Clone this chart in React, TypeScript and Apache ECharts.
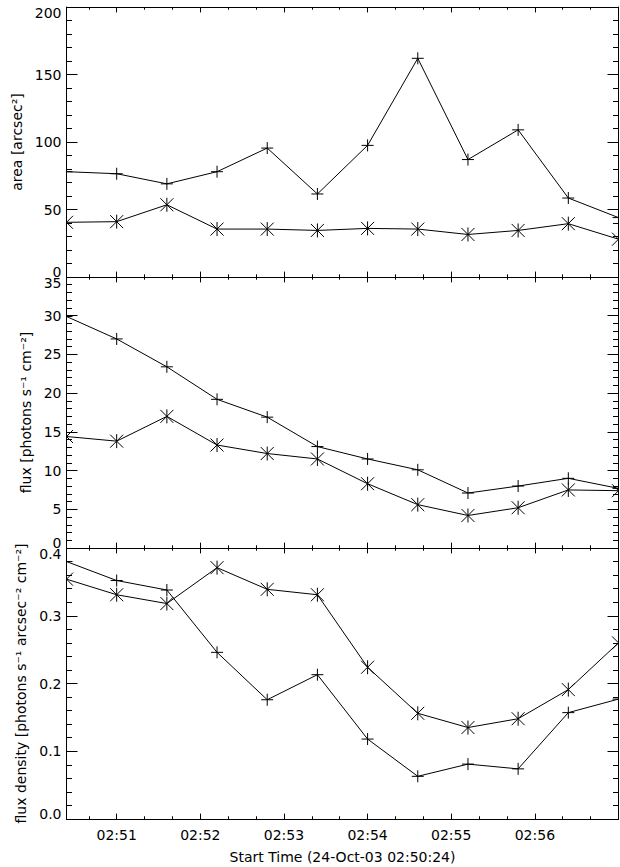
import React, { useEffect, useRef } from 'react';
import * as echarts from 'echarts';

// Start times, in seconds after 02:50:00 on 24-Oct-03
const times = [24, 60, 96, 132, 168, 204, 240, 276, 312, 348, 384, 420];

// Panel 1: area [arcsec^2]
const areaPlus = [78, 76.5, 69, 78, 95.5, 61.5, 97.5, 162, 87, 109, 58.5, 44];
const areaStar = [40.5, 41, 53.5, 35.5, 35.5, 34.5, 36, 35.5, 31.5, 34.5, 39.5, 28];

// Panel 2: flux [photons s^-1 cm^-2]
const fluxPlus = [29.9, 27.0, 23.4, 19.2, 16.9, 13.1, 11.5, 10.1, 7.1, 8.0, 9.0, 7.7];
const fluxStar = [14.4, 13.8, 17.0, 13.3, 12.2, 11.5, 8.3, 5.6, 4.2, 5.2, 7.5, 7.4];

// Panel 3: flux density [photons s^-1 arcsec^-2 cm^-2]
const densPlus = [0.38, 0.352, 0.338, 0.246, 0.176, 0.213, 0.118, 0.063, 0.081, 0.074, 0.157, 0.177];
const densStar = [0.354, 0.331, 0.318, 0.371, 0.339, 0.331, 0.224, 0.156, 0.135, 0.148, 0.191, 0.26];

// Axis ticks (seconds after 02:50:00)
const majorTimeTicks = [60, 120, 180, 240, 300, 360];
const minorTimeTicks = [40, 80, 100, 140, 160, 200, 220, 260, 280, 320, 340, 380, 400];
const timeMin = 24;
const timeMax = 420;

const yNames = ['area [arcsec²]', 'flux [photons s⁻¹ cm⁻²]', 'flux density [photons s⁻¹ arcsec⁻² cm⁻²]'];
const yMins = [0, 0, 0];
const yMaxs = [200, 35, 0.4];
const yIntervals = [50, 5, 0.1];
const yDecimals = [0, 0, 1];
const xTitle = 'Start Time (24-Oct-03 02:50:24)';

const FONT = 'DejaVu Sans';
const INK = '#000';

export default function App() {
  const ref = useRef<HTMLDivElement>(null);

  useEffect(() => {
    if (!ref.current) return;
    const chart = echarts.init(ref.current, null, { renderer: 'svg' });

    const plusSets = [areaPlus, fluxPlus, densPlus];
    const starSets = [areaStar, fluxStar, densStar];
    const tops = [7, 277, 548];
    const heights = [270, 271, 271];

    const grid: any[] = [];
    const xAxis: any[] = [];
    const yAxis: any[] = [];
    const series: any[] = [];

    const lineStyle = { color: INK, width: 1 };

    for (let i = 0; i < 3; i++) {
      grid.push({ left: 66.5, width: 552, top: tops[i], height: heights[i], containLabel: false });
      const isLast = i === 2;
      const fmt = (v: number) => '02:' + String(50 + Math.round(v / 60));
      const mkX = (position: string, major: boolean) => ({
        type: 'value',
        gridIndex: i,
        position,
        min: timeMin,
        max: timeMax,
        axisLine: { show: major, onZero: false, lineStyle },
        axisTick: {
          show: true,
          inside: true,
          length: major ? 5.4 : 2.7,
          customValues: major ? majorTimeTicks : minorTimeTicks,
          lineStyle,
        },
        axisLabel: {
          show: isLast && major && position === 'bottom',
          customValues: major ? majorTimeTicks : minorTimeTicks,
          formatter: fmt,
          color: INK,
          fontFamily: FONT,
          fontSize: 14,
          margin: 9,
        },
        splitLine: { show: false },
        name: isLast && major && position === 'bottom' ? xTitle : '',
        nameLocation: 'middle',
        nameGap: 31,
        nameTextStyle: { color: INK, fontFamily: FONT, fontSize: 14 },
      });
      xAxis.push(mkX('bottom', true), mkX('bottom', false), mkX('top', true), mkX('top', false));

      const mkY = (position: string) => ({
        type: 'value',
        gridIndex: i,
        position,
        min: yMins[i],
        max: yMaxs[i],
        interval: yIntervals[i],
        axisLine: { show: true, onZero: false, lineStyle },
        axisTick: { show: true, inside: true, length: 11, lineStyle },
        minorTick: { show: true, splitNumber: 5, length: 5.5, lineStyle },
        splitLine: { show: false },
        minorSplitLine: { show: false },
        axisLabel: {
          show: position === 'left',
          color: INK,
          fontFamily: FONT,
          fontSize: 14,
          lineHeight: 11,
          margin: 5,
          formatter: (v: number) => v.toFixed(yDecimals[i]),
          verticalAlignMinLabel: 'bottom',
          verticalAlignMaxLabel: 'top',
        },
        name: position === 'left' ? yNames[i] : '',
        nameLocation: 'middle',
        nameGap: 27,
        nameTextStyle: { color: INK, fontFamily: FONT, fontSize: 14 },
      });
      yAxis.push(mkY('left'), mkY('right'));

      const xi = i * 4;
      const yi = i * 2;
      const sets: [number[], string][] = [
        [plusSets[i], 'plus'],
        [starSets[i], 'star'],
      ];
      for (const [vals, kind] of sets) {
        const data = times.map((t, k) => [t, vals[k]]);
        series.push({
          type: 'line',
          xAxisIndex: xi,
          yAxisIndex: yi,
          data,
          showSymbol: false,
          symbol: 'none',
          lineStyle,
          clip: true,
          silent: true,
          z: 2,
        });
        series.push({
          type: 'custom',
          xAxisIndex: xi,
          yAxisIndex: yi,
          data,
          clip: true,
          silent: true,
          z: 3,
          encode: { x: 0, y: 1 },
          renderItem: (_params: any, api: any) => {
            const p = api.coord([api.value(0), api.value(1)]);
            const x = p[0];
            const y = p[1];
            const st = { stroke: INK, lineWidth: 1, fill: 'none' };
            const children =
              kind === 'plus'
                ? [
                    { type: 'line', shape: { x1: x - 6, y1: y, x2: x + 6, y2: y }, style: st },
                    { type: 'line', shape: { x1: x, y1: y - 6, x2: x, y2: y + 6 }, style: st },
                  ]
                : [
                    { type: 'line', shape: { x1: x, y1: y - 7, x2: x, y2: y + 7 }, style: st },
                    { type: 'line', shape: { x1: x - 6.5, y1: y - 6.5, x2: x + 6.5, y2: y + 6.5 }, style: st },
                    { type: 'line', shape: { x1: x - 6.5, y1: y + 6.5, x2: x + 6.5, y2: y - 6.5 }, style: st },
                  ];
            return { type: 'group', children };
          },
        });
      }
    }

    chart.setOption({
      animation: false,
      backgroundColor: '#fff',
      grid,
      xAxis,
      yAxis,
      series,
    });

    return () => chart.dispose();
  }, []);

  return (
    <div
      ref={ref}
      style={{ position: 'fixed', left: 0, top: 0, width: 620, height: 867, background: '#fff' }}
    />
  );
}
